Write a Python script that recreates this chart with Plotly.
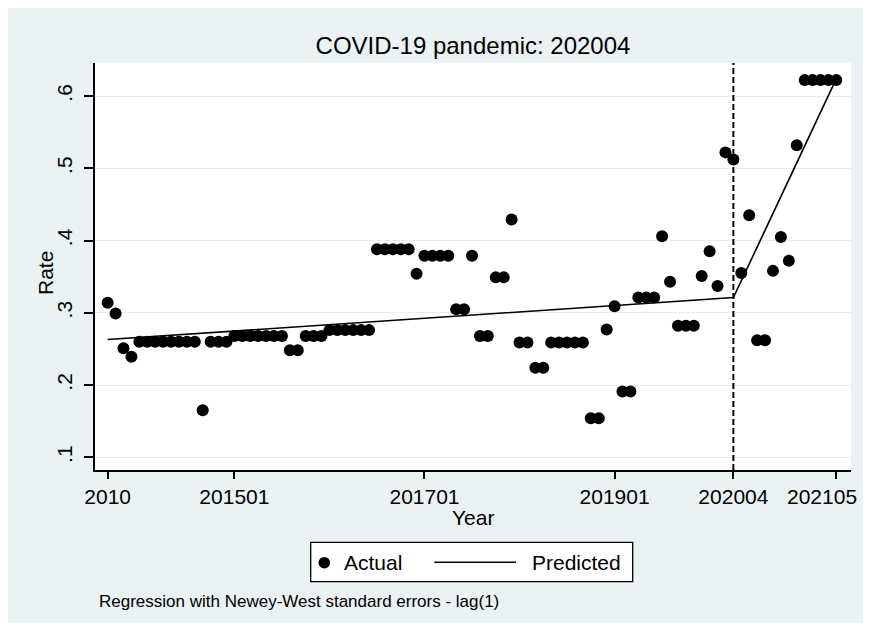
import plotly.graph_objects as go

# ---- data ----
period_index = list(range(93))
rate_actual = [
    0.314, 0.299, 0.251, 0.239,
    0.260, 0.260, 0.260, 0.260, 0.260, 0.260, 0.260, 0.260,
    0.165,
    0.260, 0.260, 0.260,
    0.268, 0.268, 0.268, 0.268, 0.268, 0.268, 0.268,
    0.248, 0.248,
    0.268, 0.268, 0.268,
    0.276, 0.276, 0.276, 0.276, 0.276, 0.276,
    0.388, 0.388, 0.388, 0.388, 0.388,
    0.354,
    0.379, 0.379, 0.379, 0.379,
    0.305, 0.305,
    0.379,
    0.268, 0.268,
    0.349, 0.349,
    0.429,
    0.259, 0.259,
    0.224, 0.224,
    0.259, 0.259, 0.259, 0.259, 0.259,
    0.154, 0.154,
    0.277, 0.309,
    0.191, 0.191,
    0.321, 0.321, 0.321,
    0.406, 0.343,
    0.282, 0.282, 0.282,
    0.351, 0.385, 0.337, 0.522, 0.512,
    0.355, 0.435,
    0.262, 0.262,
    0.358, 0.405, 0.372, 0.532,
    0.622, 0.622, 0.622, 0.622, 0.622,
]
predicted_x = [0, 79, 92]
predicted_y = [0.263, 0.321, 0.624]
intervention_x = 79
x_tickvals = [0, 16, 40, 64, 79, 92]
x_ticktext = ["2010", "201501", "201701", "201901", "202004", "202105"]
y_tickvals = [0.1, 0.2, 0.3, 0.4, 0.5, 0.6]
y_ticktext = [".1", ".2", ".3", ".4", ".5", ".6"]

FONT = "Liberation Sans, Arial, Helvetica, sans-serif"
BG = "#EAF2F3"

W, H = 855, 615
L, R, T, B = 87, 12, 55, 153
pw, ph = W - L - R, H - T - B


def px(x):
    return (x - L) / pw


def py(y):
    return (T + ph - y) / ph


# the last tick label is drawn as an annotation nudged inward so it stays inside the figure
axis_ticktext = x_ticktext[:-1] + [""]

# legend box (drawn like Stata's)
legend_shapes = [
    dict(type="rect", xref="paper", yref="paper", x0=px(302.7), x1=px(624.7),
         y0=py(573.7), y1=py(534.3), line=dict(color="black", width=1.3),
         fillcolor="white", layer="above"),
    dict(type="circle", xref="paper", yref="paper", x0=px(316.3 - 5.8), x1=px(316.3 + 5.8),
         y0=py(554.7 + 5.8), y1=py(554.7 - 5.8), line=dict(width=0), fillcolor="black",
         layer="above"),
    dict(type="line", xref="paper", yref="paper", x0=px(426.3), x1=px(508),
         y0=py(554.3), y1=py(554.3), line=dict(color="black", width=1.6), layer="above"),
]

annotations = [
    dict(text=x_ticktext[-1], xref="x", yref="paper", x=x_tickvals[-1], y=py(488.5),
         xanchor="right", yanchor="middle", xshift=23, showarrow=False, font=dict(size=21)),
    dict(text="Actual", xref="paper", yref="paper", x=px(333.5), y=py(554.5),
         xanchor="left", yanchor="middle", showarrow=False, font=dict(size=21)),
    dict(text="Predicted", xref="paper", yref="paper", x=px(521.5), y=py(554.5),
         xanchor="left", yanchor="middle", showarrow=False, font=dict(size=21)),
    dict(text="Year", xref="paper", yref="paper", x=px(464.5), y=py(509.5),
         xanchor="center", yanchor="middle", showarrow=False, font=dict(size=21)),
    dict(text="Rate", xref="paper", yref="paper", x=px(37), y=py(265),
         xanchor="center", yanchor="middle", textangle=-90, showarrow=False, font=dict(size=21)),
    dict(text="Regression with Newey-West standard errors - lag(1)",
         xref="paper", yref="paper", x=px(89), y=py(593.5),
         xanchor="left", yanchor="middle", showarrow=False, font=dict(size=17)),
]

layout = go.Layout(
    width=W, height=H,
    margin=dict(l=L, r=R, t=T, b=B, pad=0, autoexpand=False),
    paper_bgcolor=BG, plot_bgcolor="white",
    font=dict(family=FONT, color="black", size=21),
    title=dict(text="COVID-19 pandemic: 202004", x=(L + pw / 2) / W, xanchor="center",
               y=1 - 37.5 / H, yanchor="middle", font=dict(size=24, color="black")),
    showlegend=False,
    xaxis=dict(range=[-1.6, 93.85], showgrid=False, zeroline=False,
               showline=True, linecolor="black", linewidth=2,
               ticks="outside", ticklen=7, tickwidth=2, tickcolor="black",
               tickvals=x_tickvals, ticktext=axis_ticktext, tickfont=dict(size=21),
               ticklabeloverflow="allow", automargin=False),
    yaxis=dict(range=[0.0824, 0.6457], showgrid=True, gridcolor="#E6EEF0", gridwidth=1.2,
               zeroline=False, showline=True, linecolor="black", linewidth=2,
               ticks="outside", ticklen=9, tickwidth=2, tickcolor="black",
               tickvals=y_tickvals, ticktext=y_ticktext, tickangle=-90, tickfont=dict(size=21),
               ticklabelstandoff=4, automargin=False),
    shapes=legend_shapes,
    annotations=annotations,
)

fig = go.Figure(layout=layout)
fig.add_trace(go.Scatter(
    x=period_index, y=rate_actual, mode="markers", name="Actual",
    marker=dict(color="black", size=12, line=dict(width=0)), showlegend=False,
))
fig.add_trace(go.Scatter(
    x=predicted_x, y=predicted_y, mode="lines", name="Predicted",
    line=dict(color="black", width=1.6), showlegend=False,
))
fig.add_vline(x=intervention_x, line=dict(color="black", width=2, dash="6px,3px"))

fig.write_html("out.html")
